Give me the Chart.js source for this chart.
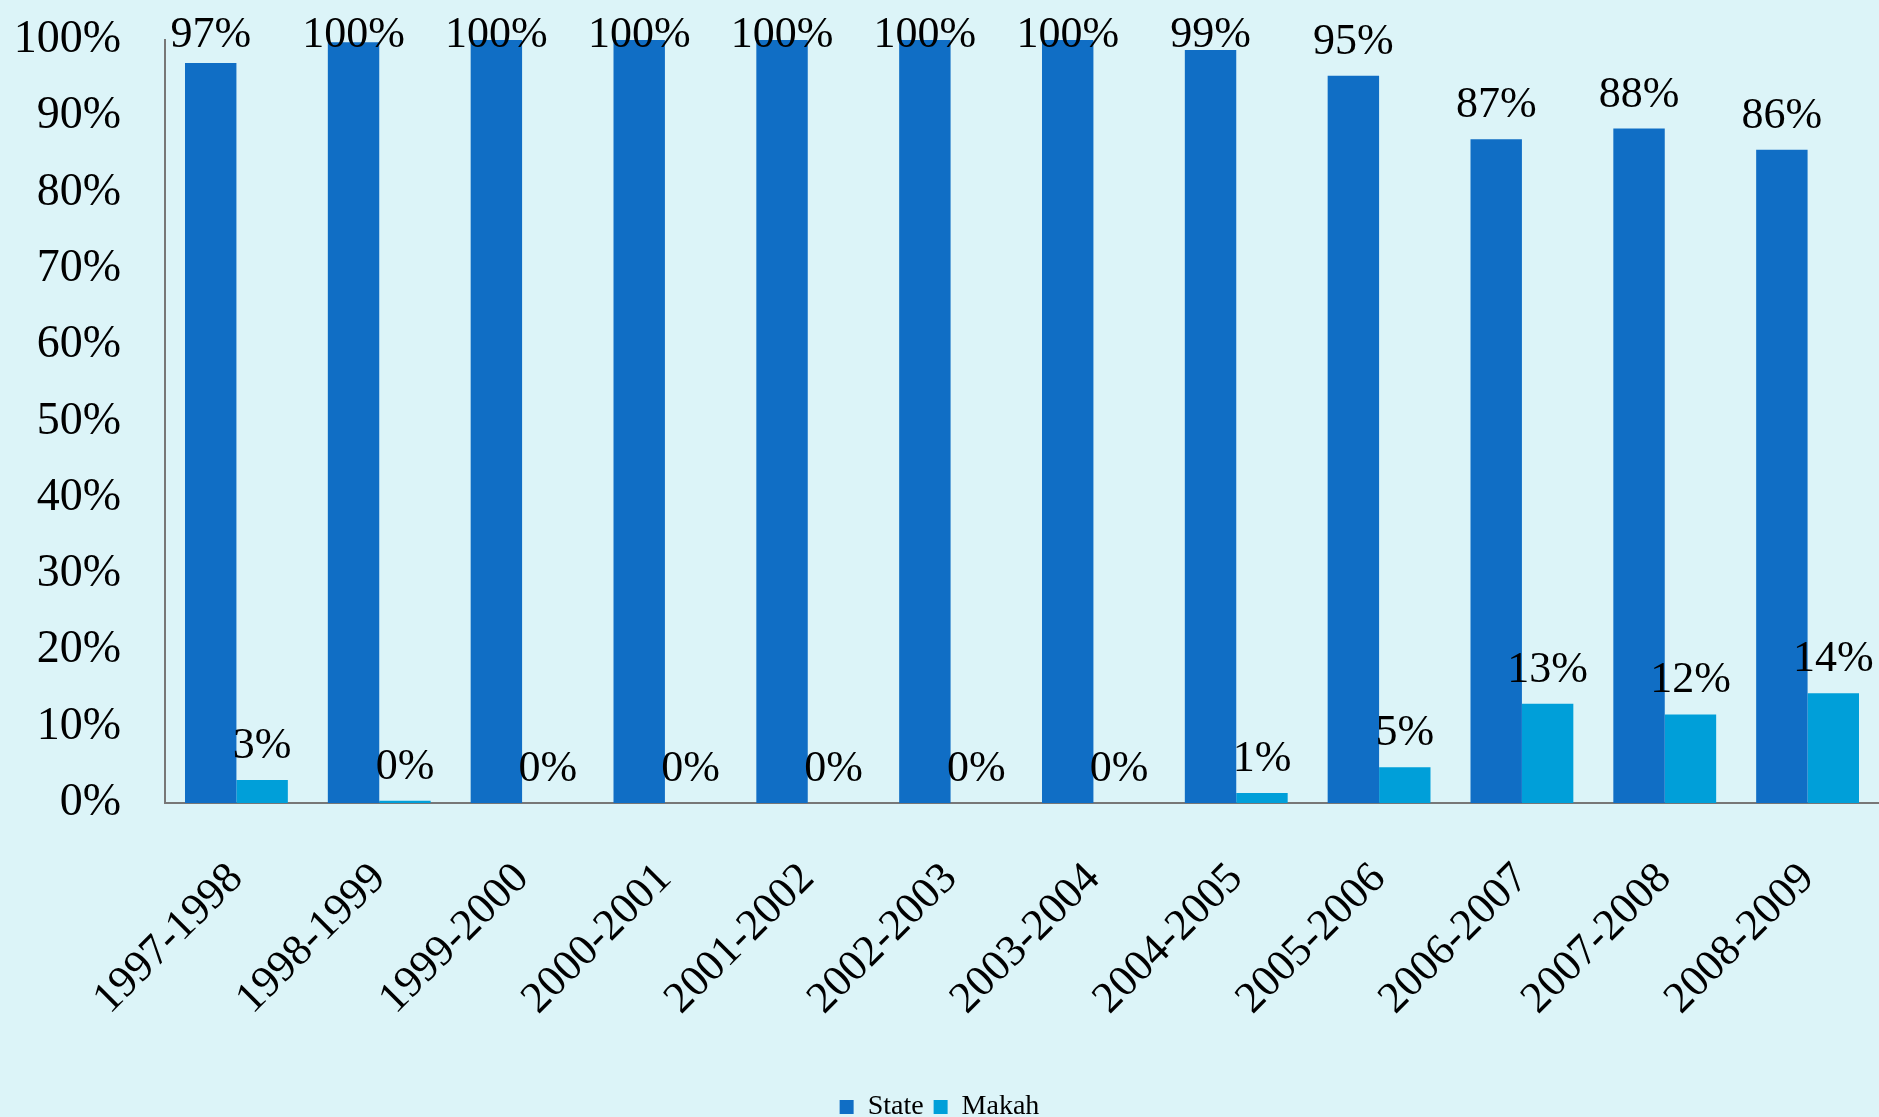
<!DOCTYPE html>
<html lang="en">
<head>
<meta charset="UTF-8">
<title>State vs Makah</title>
<script src="https://cdn.jsdelivr.net/npm/chart.js"></script>
<style>
    html, body {
        margin: 0;
        padding: 0;
        background-color: #dcf4f8;
    }
    #wrap {
        width: 1879px;
        height: 1117px;
        position: relative;
    }
</style>
</head>
<body>
<div id="wrap"><canvas id="barChart"></canvas></div>
<script>
const seasons = ['1997-1998', '1998-1999', '1999-2000', '2000-2001', '2001-2002', '2002-2003',
    '2003-2004', '2004-2005', '2005-2006', '2006-2007', '2007-2008', '2008-2009'];
const stateShare = [97.0, 99.7, 100, 100, 100, 100, 100, 98.7, 95.3, 87.0, 88.4, 85.6];
const makahShare = [3.0, 0.3, 0, 0, 0, 0, 0, 1.3, 4.7, 13.0, 11.6, 14.4];
const yTicks = [0, 10, 20, 30, 40, 50, 60, 70, 80, 90, 100];

const serif = "'Liberation Serif', 'DejaVu Serif', serif";

// draws the "97%" style labels above every bar, kept inside the canvas at the top
const barLabels = {
    id: 'barLabels',
    afterDatasetsDraw(chart) {
        const ctx = chart.ctx;
        ctx.save();
        ctx.fillStyle = '#000';
        ctx.font = '44px ' + serif;
        ctx.textAlign = 'center';
        ctx.textBaseline = 'alphabetic';
        chart.data.datasets.forEach((ds, i) => {
            chart.getDatasetMeta(i).data.forEach((bar, j) => {
                const y = Math.max(bar.y - 22, 47);
                ctx.fillText(Math.round(ds.data[j]) + '%', bar.x, y);
            });
        });
        ctx.restore();
    }
};

const ctx = document.getElementById('barChart').getContext('2d');
const chart = new Chart(ctx, {
    type: 'bar',
    data: {
        labels: seasons,
        datasets: [{
            label: 'State',
            data: stateShare,
            backgroundColor: '#106ec5',
            borderWidth: 0
        }, {
            label: 'Makah',
            data: makahShare,
            backgroundColor: '#009fd9',
            borderWidth: 0
        }]
    },
    options: {
        responsive: true,
        maintainAspectRatio: false,
        animation: false,
        categoryPercentage: 0.72,
        barPercentage: 1.0,
        layout: { padding: { top: 40, right: 0, left: 0, bottom: -14 } },
        scales: {
            x: {
                grid: { display: false, drawTicks: false },
                border: { display: true, color: '#777', width: 2 },
                ticks: {
                    color: '#000',
                    font: { family: serif, size: 44 },
                    minRotation: 45,
                    maxRotation: 45,
                    padding: 50
                },
                afterFit(scale) {
                    scale.height = 280;
                    scale.paddingLeft = 0;
                    scale.paddingRight = 0;
                }
            },
            y: {
                min: 0,
                max: 100,
                afterBuildTicks(scale) {
                    scale.ticks = yTicks.map(v => ({ value: v }));
                },
                grid: { display: false, drawTicks: false },
                border: { display: true, color: '#777', width: 2 },
                ticks: {
                    color: '#000',
                    font: { family: serif, size: 46 },
                    padding: 44,
                    callback: v => v + '%'
                },
                afterFit(scale) {
                    scale.width = 165;
                    scale.paddingTop = 0;
                    scale.paddingBottom = 0;
                }
            }
        },
        plugins: {
            legend: {
                position: 'bottom',
                labels: {
                    color: '#000',
                    font: { family: serif, size: 28 },
                    boxWidth: 14,
                    boxHeight: 14,
                    padding: 10
                }
            },
            tooltip: { enabled: false }
        }
    },
    plugins: [barLabels]
});
</script>
</body>
</html>
